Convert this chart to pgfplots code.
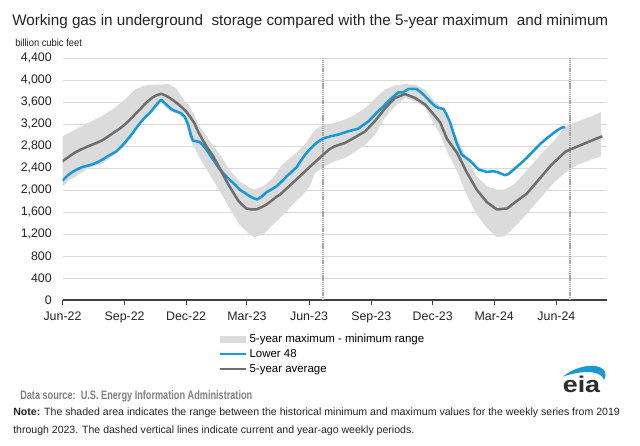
\documentclass[border=0pt]{standalone}
\usepackage{pgfplots}
\pgfplotsset{compat=1.18}
\usepackage{pgfplotstable}
\usepgfplotslibrary{fillbetween}
\usepackage{fontspec}
\setmainfont{Liberation Sans}
\usepackage{graphicx}

\definecolor{eiablue}{RGB}{24,152,212}
\definecolor{avggray}{RGB}{110,110,110}
\definecolor{bandgray}{RGB}{219,219,219}
\definecolor{gridgray}{RGB}{217,217,217}
\definecolor{dashgray}{RGB}{165,165,165}
\definecolor{textdark}{RGB}{35,35,35}
\definecolor{srcgray}{RGB}{128,128,128}
\definecolor{logogray}{RGB}{45,45,45}

% x = days since 1 June 2022, y = billion cubic feet
\pgfplotstableread{
x y
0 2172
8 2269
15 2330
23 2384
30 2420
38 2444
45 2470
53 2511
60 2560
67 2614
75 2670
80 2704
87 2790
92 2856
98 2945
104 3037
110 3140
117 3249
123 3330
129 3400
136 3503
141 3580
146 3642
153 3560
161 3473
166 3440
171 3418
176 3390
181 3330
186 3188
190 3000
193 2898
203 2874
208 2810
213 2735
218 2640
223 2553
228 2460
233 2372
240 2280
247 2190
255 2100
262 2009
270 1945
277 1888
283 1850
288 1827
295 1880
302 1960
310 2015
317 2069
325 2160
332 2251
340 2340
347 2420
351 2500
359 2640
366 2740
374 2837
381 2900
388 2946
398 2980
408 3007
416 3040
423 3067
430 3090
438 3116
445 3180
453 3249
460 3340
467 3430
475 3520
482 3612
490 3700
497 3775
504 3775
512 3836
518 3840
524 3836
531 3770
537 3703
544 3612
551 3530
556 3495
564 3473
569 3360
574 3219
579 3020
584 2837
591 2644
603 2535
616 2372
628 2329
638 2341
645 2320
655 2269
660 2290
668 2372
677 2470
687 2583
697 2710
707 2837
717 2940
727 3037
734 3098
740 3140
744 3140
}\lowerfortyeight

\pgfplotstableread{
x y
0 2523
10 2610
19 2686
28 2740
38 2795
48 2845
58 2898
66 2960
75 3037
84 3110
92 3188
100 3280
107 3370
115 3470
122 3563
128 3630
134 3690
140 3725
146 3751
152 3720
159 3672
165 3620
171 3563
177 3500
183 3430
189 3330
195 3219
199 3110
203 3007
208 2900
213 2795
218 2705
223 2614
229 2480
235 2341
241 2200
247 2069
254 1930
260 1809
266 1730
272 1664
280 1646
287 1646
295 1690
302 1736
310 1810
317 1880
322 1917
332 2030
347 2200
359 2340
366 2420
374 2510
386 2644
395 2740
403 2795
418 2856
433 2958
448 3067
463 3261
477 3479
492 3672
507 3745
522 3672
537 3551
544 3450
551 3350
559 3230
569 2930
584 2674
598 2330
613 2009
628 1780
643 1646
658 1664
672 1797
687 1930
705 2190
724 2462
744 2692
751 2735
763 2795
783 2898
799 2977
}\fiveyearavg

\pgfplotstableread{
x y
0 2977
19 3098
38 3219
58 3340
77 3491
92 3642
107 3824
122 3902
136 3914
156 3926
168 3854
173 3763
181 3612
188 3521
203 3158
218 2886
233 2644
247 2372
262 2160
277 2039
284 2009
297 2069
312 2220
322 2420
342 2640
357 2800
374 3098
388 3188
403 3219
418 3279
433 3370
448 3491
463 3672
477 3824
492 3902
507 3926
522 3914
537 3824
544 3700
551 3612
559 3521
569 3309
584 2946
598 2583
613 2251
628 2069
643 2009
655 2009
668 2099
682 2281
697 2493
712 2704
727 2886
744 3158
763 3249
783 3340
797 3418
}\bandmax

\pgfplotstableread{
x y
0 2060
10 2180
19 2240
38 2400
58 2470
75 2620
92 2800
107 3080
122 3300
136 3460
146 3590
159 3430
173 3380
181 3280
188 2950
203 2583
218 2281
233 1978
247 1676
262 1373
277 1192
284 1143
297 1192
312 1373
327 1555
342 1748
357 1930
366 2069
374 2311
388 2432
403 2523
418 2583
433 2692
448 2825
463 3007
477 3309
492 3521
507 3672
522 3612
537 3491
544 3340
559 3007
569 2704
584 2341
598 1918
613 1555
628 1313
643 1143
655 1162
668 1313
682 1494
697 1706
712 1918
727 2130
744 2311
763 2462
783 2553
797 2614
}\bandmin

\begin{document}
\begin{tikzpicture}
\begin{axis}[
  at={(46.875pt,-225pt)}, anchor=south west,
  scale only axis, width=408.4pt, height=181.5pt,
  xmin=0, xmax=806, ymin=0, ymax=4400,
  axis x line*=bottom, axis y line*=left,
  axis line style={-},
  x axis line style={draw=black!75, line width=0.9pt},
  y axis line style={draw=none},
  xtick={0,92,183,273,365,457,548,639,731},
  xticklabels={Jun-22,Sep-22,Dec-22,Mar-23,Jun-23,Sep-23,Dec-23,Mar-24,Jun-24},
  ytick={0,400,...,4400},
  xtick align=outside,
  major tick length=3.75pt,
  xtick style={draw=black!75, line width=0.75pt},
  ytick style={draw=none},
  ymajorgrids,
  grid style={draw=gridgray, line width=0.75pt},
  tick label style={font=\fontsize{9.3}{11}\selectfont, text=textdark},
  yticklabel style={xshift=-4.5pt, /pgf/number format/1000 sep={,}},
  /pgf/number format/assume math mode=true,
  xticklabel style={yshift=-1.5pt},
  legend cell align=left,
  legend style={at={(0.2875,-0.137)}, anchor=north west, draw=none, fill=none,
    inner sep=0pt, outer sep=0pt, row sep=2.25pt, column sep=2pt,
    font=\fontsize{8.6}{10}\selectfont,
    nodes={inner sep=0pt, text height=6.8pt, text depth=2.2pt}},
  legend image code/.code={\draw[#1] (0pt,0pt) -- (19pt,0pt);},
]
\addplot[name path=bandhi, draw=none, forget plot] table {\bandmax};
\addplot[name path=bandlo, draw=none, forget plot] table {\bandmin};
\addplot[bandgray, legend image code/.code={\fill[bandgray] (0pt,-2.3pt) rectangle (19pt,2.3pt);}]
  fill between[of=bandhi and bandlo];
\addlegendentry{5-year maximum - minimum range}

% current and year-ago weekly periods
\addplot[dashgray, line width=1.4pt, dash pattern=on 1pt off 0.6pt, forget plot]
  coordinates {(386,0) (386,4400)};
\addplot[dashgray, line width=1.4pt, dash pattern=on 1pt off 0.6pt, forget plot]
  coordinates {(751,0) (751,4400)};

\addplot[eiablue, line width=1.9pt, line join=round] table {\lowerfortyeight};
\addlegendentry{Lower 48}
\addplot[avggray, line width=1.9pt, line join=round] table {\fiveyearavg};
\addlegendentry{5-year average}
\end{axis}

\begin{scope}[x=0.75pt,y=-0.75pt]
% titles and notes
\node[anchor=base west, inner sep=0pt, text=textdark] at (12,25.5)
  {\resizebox{447pt}{\height}{\fontsize{11.5}{13}\selectfont Working gas in underground\ \ storage compared with the 5-year maximum\ \ and minimum}};
\node[anchor=base west, inner sep=0pt, text=textdark] at (15,46.5)
  {\resizebox{50pt}{\height}{\fontsize{7.8}{9}\selectfont billion cubic feet}};
\node[anchor=base west, inner sep=0pt, text=srcgray] at (20,399)
  {\resizebox{174pt}{\height}{\fontsize{9.2}{11}\selectfont\bfseries Data source:\ \ U.S. Energy Information Administration}};
\node[anchor=base west, inner sep=0pt, text=textdark] at (13,415)
  {\resizebox{455pt}{\height}{\fontsize{7.9}{9}\selectfont\textbf{Note:} The shaded area indicates the range between the historical minimum and maximum values for the weekly series from 2019}};
\node[anchor=base west, inner sep=0pt, text=textdark] at (13,433)
  {\resizebox{300.75pt}{\height}{\fontsize{7.9}{9}\selectfont through 2023. The dashed vertical lines indicate current and year-ago weekly periods.}};

% eia logo
\fill[eiablue] (563,376.5) .. controls (576,366) and (596,362) .. (604,370)
  .. controls (606,373) and (606,377) .. (604,380)
  .. controls (602,373) and (590,368) .. (563,376.5) -- cycle;
\node[anchor=base, inner sep=0pt, text=logogray] at (581.5,392.5)
  {\resizebox{28pt}{\height}{\fontsize{17}{19}\selectfont\bfseries eia}};

% page extent
\path (0,0) rectangle (640,446);
\end{scope}
\end{tikzpicture}
\end{document}
